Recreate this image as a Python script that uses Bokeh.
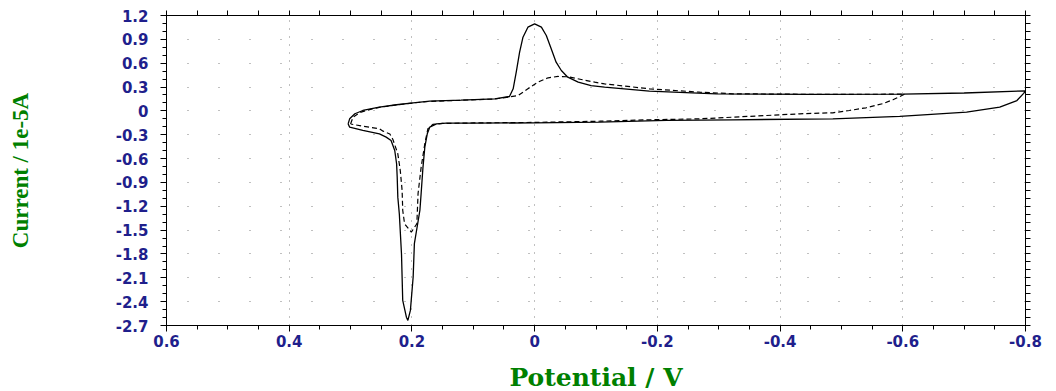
from bokeh.plotting import figure
from bokeh.models import FixedTicker, LinearAxis, Range1d
from bokeh.embed import file_html
from bokeh.resources import INLINE

# ---- data ----
solid_v = [0.304, 0.3015, 0.293, 0.28, 0.253, 0.225, 0.198, 0.171, 0.12, 0.065, 0.041, 0.035,
           0.030, 0.0245, 0.019, 0.011, 0.0, -0.011, -0.019, -0.027, -0.035, -0.0435, -0.054,
           -0.071, -0.092, -0.114, -0.187, -0.296, -0.45, -0.6, -0.7, -0.8,
           -0.797, -0.786, -0.758, -0.704, -0.595, -0.486, -0.323, -0.215, -0.106, 0.0, 0.1,
           0.144, 0.16, 0.171, 0.175, 0.179, 0.182, 0.185, 0.187, 0.196, 0.198, 0.2025, 0.2066,
           0.209, 0.215, 0.217, 0.2205, 0.223, 0.224, 0.225, 0.228, 0.234, 0.242, 0.253, 0.28,
           0.3015, 0.304]
solid_i = [-0.163, -0.1, -0.036, 0.005, 0.047, 0.077, 0.102, 0.122, 0.135, 0.152, 0.181, 0.278,
           0.487, 0.738, 0.927, 1.053, 1.095, 1.053, 0.948, 0.781, 0.613, 0.508, 0.424,
           0.361, 0.319, 0.298, 0.248, 0.215, 0.208, 0.212, 0.225, 0.252,
           0.22, 0.13, 0.047, -0.016, -0.07, -0.1, -0.112, -0.12, -0.142, -0.15, -0.155,
           -0.155, -0.163, -0.205, -0.288, -0.457, -0.71, -1.04, -1.25, -1.67, -2.09, -2.51, -2.636,
           -2.595, -2.385, -1.8, -1.3, -1.085, -0.834, -0.665, -0.498, -0.372, -0.33, -0.29, -0.246,
           -0.205, -0.163]

dashed_v = [0.3, 0.296, 0.285, 0.265, 0.253, 0.225, 0.198, 0.171, 0.12, 0.065, 0.041, 0.027,
            0.011, -0.005, -0.022, -0.038, -0.054, -0.076, -0.098, -0.114, -0.187, -0.269,
            -0.323, -0.45, -0.603,
            -0.584, -0.567, -0.54, -0.513, -0.486, -0.432, -0.378, -0.323, -0.269, -0.187,
            -0.106, 0.0, 0.1, 0.15, 0.166, 0.174, 0.179, 0.185, 0.19, 0.192, 0.201, 0.212,
            0.215, 0.216, 0.219, 0.223, 0.231, 0.236, 0.247, 0.253, 0.28, 0.293, 0.3]
dashed_i = [-0.165, -0.08, -0.02, 0.025, 0.045, 0.075, 0.1, 0.12, 0.133, 0.15, 0.175, 0.194,
            0.278, 0.361, 0.416, 0.433, 0.429, 0.395, 0.361, 0.34, 0.278, 0.235,
            0.215, 0.208, 0.21,
            0.14, 0.09, 0.039, 0.005, -0.024, -0.037, -0.058, -0.079, -0.1, -0.112,
            -0.13, -0.145, -0.152, -0.158, -0.17, -0.225, -0.414, -0.71, -1.04, -1.42, -1.526, -1.42,
            -1.25, -1.0, -0.75, -0.54, -0.36, -0.29, -0.255, -0.225, -0.192, -0.175, -0.165]

x_ticks = [0.6, 0.4, 0.2, 0.0, -0.2, -0.4, -0.6, -0.8]
x_labels = ["0.6", "0.4", "0.2", "0", "-0.2", "-0.4", "-0.6", "-0.8"]
y_ticks = [1.2, 0.9, 0.6, 0.3, 0.0, -0.3, -0.6, -0.9, -1.2, -1.5, -1.8, -2.1, -2.4, -2.7]
y_labels = ["1.2", "0.9", "0.6", "0.3", "0", "-0.3", "-0.6", "-0.9", "-1.2", "-1.5",
            "-1.8", "-2.1", "-2.4", "-2.7"]
x_minor = [round(0.6 - 0.05 * k, 3) for k in range(29)]
y_minor = [round(1.2 - 0.1 * k, 3) for k in range(40)]

TICK_COLOR = "#1f1f8c"
LABEL_COLOR = "#008000"

p = figure(frame_width=859, frame_height=310,
           x_range=Range1d(0.6, -0.8), y_range=Range1d(-2.7, 1.2),
           output_backend="svg", toolbar_location=None,
           min_border_left=166, min_border_right=20, min_border_top=15, min_border_bottom=63)
p.outline_line_color = "black"
p.background_fill_color = "white"
p.border_fill_color = "white"

xt = FixedTicker(ticks=x_ticks, minor_ticks=x_minor)
yt = FixedTicker(ticks=y_ticks, minor_ticks=y_minor)


def style_axis(ax, ticker):
    ax.ticker = ticker
    ax.axis_line_color = "black"
    ax.major_tick_line_color = "black"
    ax.minor_tick_line_color = "black"
    ax.major_tick_in = 0
    ax.major_tick_out = 6
    ax.minor_tick_in = 0
    ax.minor_tick_out = 4


xaxis = p.xaxis[0]
yaxis = p.yaxis[0]
style_axis(xaxis, xt)
style_axis(yaxis, yt)
for ax, ticks, labels in ((xaxis, x_ticks, x_labels), (yaxis, y_ticks, y_labels)):
    ax.major_label_overrides = {t: l for t, l in zip(ticks, labels)}
    ax.major_label_text_font = "DejaVu Sans"
    ax.major_label_text_font_style = "bold"
    ax.major_label_text_font_size = "15px"
    ax.major_label_text_color = TICK_COLOR
xaxis.major_label_standoff = 3
yaxis.major_label_standoff = 12

# top and right axes: ticks only (no labels)
top = LinearAxis(ticker=FixedTicker(ticks=[], minor_ticks=x_minor))
style_axis(top, top.ticker)
top.minor_tick_out = 5
p.add_layout(top, "above")
right = LinearAxis(ticker=FixedTicker(ticks=[], minor_ticks=y_minor))
style_axis(right, right.ticker)
right.minor_tick_out = 5
p.add_layout(right, "right")

xaxis.axis_label = "Potential / V"
xaxis.axis_label_text_font = "DejaVu Serif"
xaxis.axis_label_text_font_style = "bold"
xaxis.axis_label_text_font_size = "25px"
xaxis.axis_label_text_color = LABEL_COLOR
xaxis.axis_label_standoff = 13

yaxis.axis_label = "Current / 1e-5A"
yaxis.axis_label_text_font = "Liberation Serif"
yaxis.axis_label_text_font_style = "bold"
yaxis.axis_label_text_font_size = "23px"
yaxis.axis_label_text_color = LABEL_COLOR
yaxis.axis_label_standoff = 80

# dotted grid
p.xgrid.ticker = FixedTicker(ticks=x_ticks[1:-1])
p.xgrid.grid_line_color = "#808080"
p.xgrid.grid_line_dash = "1 7"
p.ygrid.ticker = FixedTicker(ticks=y_ticks[1:-1])
p.ygrid.grid_line_color = "#808080"
p.ygrid.grid_line_dash = "1 30"

p.line(solid_v, solid_i, line_color="black", line_width=1.3)
p.line(dashed_v, dashed_i, line_color="black", line_width=1.2, line_dash="5 3")

open("out.html", "w").write(file_html(p, INLINE))
